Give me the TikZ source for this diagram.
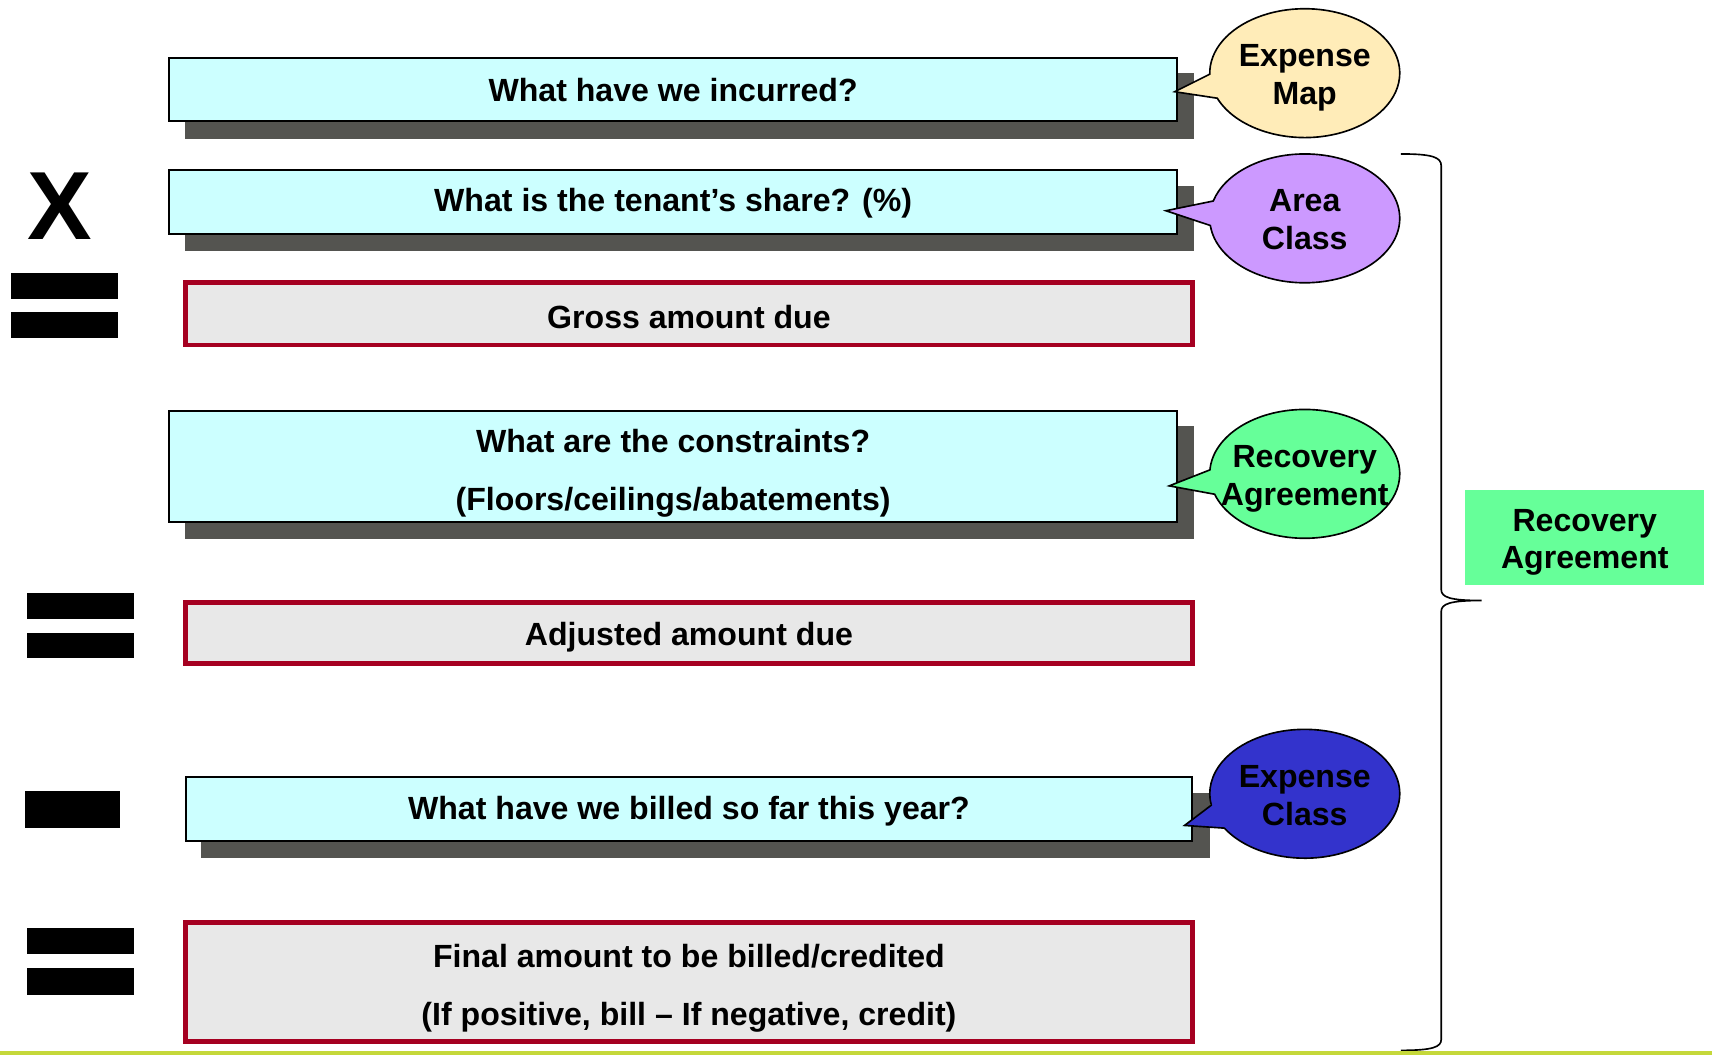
\documentclass[tikz,border=0pt]{standalone}
\usepackage{fontspec}
\setmainfont{Liberation Sans}
\usetikzlibrary{shapes.callouts,shapes.geometric,backgrounds}
\definecolor{cyanbox}{HTML}{CCFFFF}
\definecolor{shadowc}{HTML}{545450}
\definecolor{redc}{HTML}{A50021}
\definecolor{grayfill}{HTML}{E8E8E8}
\definecolor{mapc}{HTML}{FFECB8}
\definecolor{areac}{HTML}{CC99FF}
\definecolor{recc}{HTML}{66FF99}
\definecolor{expc}{HTML}{3333CC}
\definecolor{linec}{HTML}{C5D83A}
\begin{document}
\begin{tikzpicture}[x=1bp,y=-1bp,
  qbox/.style={draw=black,line width=1.8bp,fill=cyanbox,minimum width=923bp,inner sep=0pt},
  rbox/.style={draw=redc,line width=4.5bp,fill=grayfill,minimum width=922bp,inner sep=0pt},
  boxtext/.style={inner sep=0pt,font=\fontsize{29.5}{53}\selectfont\bfseries,align=center},
  bubble/.style={ellipse callout,draw=black,line width=1.5bp,minimum width=174bp,minimum height=118bp,
    inner sep=0pt,callout pointer arc=22},
  bubtext/.style={inner sep=0pt,font=\fontsize{29.5}{35}\selectfont\bfseries,align=center},
  opbar/.style={fill=black}]
\useasboundingbox (0,0) rectangle (1568,966);

% question boxes and result boxes
\node[qbox,minimum height=58bp] (b1) at (616.5,82) {};
\node[qbox,minimum height=58bp] (b2) at (616.5,185) {};
\node[rbox,minimum height=57bp] (g1) at (631,287.5) {};
\node[qbox,minimum height=102bp] (b4) at (616.5,427) {};
\node[rbox,minimum height=56bp] (g2) at (631,580) {};
\node[qbox,minimum height=58bp,minimum width=922bp] (b6) at (631,741) {};
\node[rbox,minimum height=109bp] (g3) at (631,899.5) {};

\node[boxtext] (t1) at ([shift={(0,0)}]b1.center) {What have we incurred?};
\node[boxtext] (t2) at ([shift={(0,1.5)}]b2.center) {What is the tenant’s share? (\%)};
\node[boxtext] (t3) at ([shift={(0,2.5)}]g1.center) {Gross amount due};
\node[boxtext] (t4) at ([shift={(0,6.5)}]b4.center) {What are the constraints?\\(Floors/ceilings/abatements)};
\node[boxtext] (t5) at ([shift={(0,3.5)}]g2.center) {Adjusted amount due};
\node[boxtext] (t6) at ([shift={(0,2)}]b6.center) {What have we billed so far this year?};
\node[boxtext] (t7) at ([shift={(0,5.5)}]g3.center) {Final amount to be billed/credited\\(If positive, bill – If negative, credit)};

% shadows
\begin{scope}[on background layer]
  \foreach \b in {b1,b2,b4,b6}
    \fill[shadowc] ([shift={(15,15)}]\b.south west) rectangle ([shift={(15,15)}]\b.north east);
\end{scope}

% operators
\node[font=\fontsize{89}{89}\selectfont\bfseries,inner sep=0pt] (xs) at (55,189) {X};
\fill[opbar] (10,250) rectangle (108,274);
\fill[opbar] (10,286) rectangle (108,310);
\fill[opbar] (25,543) rectangle (123,567);
\fill[opbar] (25,580) rectangle (123,603);
\fill[opbar] (23,724) rectangle (110,758);
\fill[opbar] (25,850) rectangle (123,874);
\fill[opbar] (25,887) rectangle (123,911);

% callouts
\node[bubble,fill=mapc,callout absolute pointer={([shift={(-3,2)}]b1.east)}] (c1) at (1195,67) {};
\node[bubble,fill=areac,callout absolute pointer={([shift={(-11,8)}]b2.east)}] (c2) at (1195,200) {};
\node[bubble,fill=recc,callout absolute pointer={([shift={(-8,18)}]b4.east)}] (c3) at (1195,434) {};
\node[bubble,fill=expc,callout absolute pointer={([shift={(-8,15)}]b6.east)}] (c4) at (1195,727) {};
\node[bubtext] (ct1) at ([shift={(0,4.5)}]c1.center) {Expense\\Map};
\node[bubtext] (ct2) at ([shift={(0,1.5)}]c2.center) {Area\\Class};
\node[bubtext] (ct3) at ([shift={(0,4.5)}]c3.center) {Recovery\\Agreement};
\node[bubtext] (ct4) at ([shift={(0,1.5)}]c4.center) {Expense\\Class};

% brace
\coordinate (bt) at (1283,141);
\coordinate (bm) at (1357,550);
\coordinate (bb) at (1283,962);
\draw[line width=1.5bp] (bt) .. controls (1312,141) and (1320,144) .. (1320,152) -- (1320,540)
  .. controls (1320,547) and (1328,550) .. (bm)
  .. controls (1328,550) and (1320,553) .. (1320,560) -- (1320,952)
  .. controls (1320,959) and (1312,962) .. (bb);

% green label
\node[fill=recc,minimum width=219bp,minimum height=87bp,inner sep=0pt] (ra) at (1451.5,492.5) {};
\node[bubtext,font=\fontsize{29.5}{34}\selectfont\bfseries] (rat) at ([shift={(0,4.5)}]ra.center) {Recovery\\Agreement};

% bottom rule
\fill[linec] (0,963) rectangle (1568,966);
\end{tikzpicture}
\end{document}
